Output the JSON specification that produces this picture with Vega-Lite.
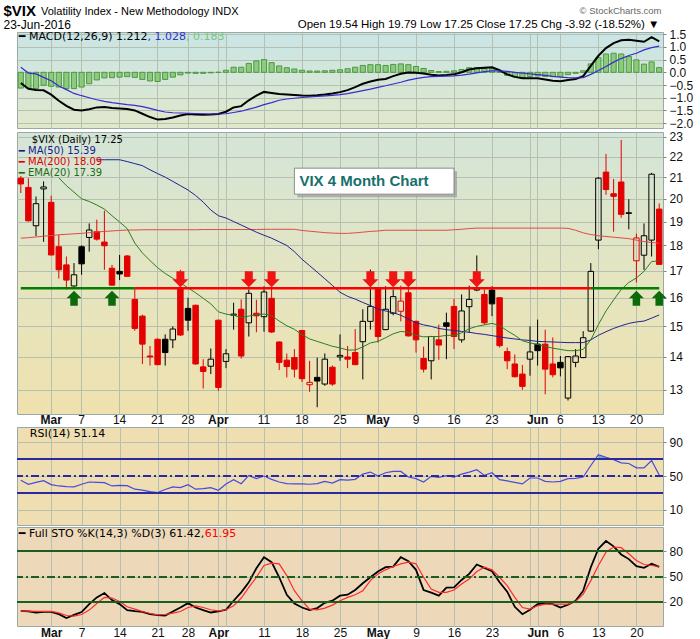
{
"$schema": "https://vega.github.io/schema/vega-lite/v6.json",
"background": "white",
"padding": {"left": 2, "top": 2, "right": 2, "bottom": 0},
"config": {
  "view": {"stroke": "#9ca8a4", "strokeWidth": 1},
  "axis": {"gridColor": "#b6c0b0", "gridWidth": 1, "labelFont": "Liberation Sans", "labelFontSize": 12, "labelColor": "#111111", "tickColor": "#7a8a8a", "domain": false, "titleFont": "Liberation Sans", "titleColor": "#000000"}
},
"datasets": {
"px": [
{"d":"2016-02-24","o":20.95,"h":21.05,"l":20.26,"c":20.68,"m200":18.3,"macd":-0.42,"sig":0.2,"hist":-0.62,"rsi":45,"k":9.5,"dd":9.5},
{"d":"2016-02-25","o":20.52,"h":20.95,"l":19.0,"c":19.03,"m200":18.32,"macd":-0.65,"sig":-0.03,"hist":-0.62,"rsi":40.3,"k":8.7,"dd":9.1},
{"d":"2016-02-26","o":18.82,"h":20.1,"l":18.39,"c":19.78,"m200":18.35,"macd":-0.7,"sig":-0.06,"hist":-0.64,"rsi":42.6,"k":7.5,"dd":8.7},
{"d":"2016-02-29","o":20.45,"h":20.8,"l":18.15,"c":20.54,"m200":18.38,"macd":-0.71,"sig":-0.2,"hist":-0.51,"rsi":44.6,"k":8.3,"dd":8.7},
{"d":"2016-03-01","o":19.84,"h":20.14,"l":17.6,"c":17.62,"m200":18.41,"macd":-0.88,"sig":-0.33,"hist":-0.55,"rsi":39.9,"k":8.3,"dd":8.7},
{"d":"2016-03-02","o":17.95,"h":18.43,"l":16.71,"c":17.04,"m200":18.44,"e20":20.97,"macd":-1.12,"sig":-0.54,"hist":-0.58,"rsi":38.3,"k":5.5,"dd":7.1},
{"d":"2016-03-03","o":17.23,"h":17.56,"l":16.3,"c":16.65,"m200":18.46,"e20":20.6,"macd":-1.32,"sig":-0.68,"hist":-0.64,"rsi":37.6,"k":1.0,"dd":3.9},
{"d":"2016-03-04","o":16.43,"h":17.3,"l":16.4,"c":16.85,"m200":18.48,"e20":20.3,"macd":-1.47,"sig":-0.83,"hist":-0.64,"rsi":37.2,"k":4.7,"dd":3.1},
{"d":"2016-03-07","o":17.95,"h":18.01,"l":16.85,"c":17.27,"m200":18.5,"e20":20.0,"macd":-1.5,"sig":-0.92,"hist":-0.58,"rsi":40.3,"k":8.0,"dd":5.1},
{"d":"2016-03-08","o":18.33,"h":18.92,"l":17.75,"c":18.64,"m200":18.53,"e20":19.88,"macd":-1.45,"sig":-1.0,"hist":-0.45,"rsi":43,"k":17.4,"dd":10.3},
{"d":"2016-03-09","o":18.57,"h":19.08,"l":18.2,"c":18.26,"m50":21.84,"m200":18.56,"e20":19.72,"macd":-1.38,"sig":-1.08,"hist":-0.3,"rsi":42.6,"k":25.4,"dd":18.2},
{"d":"2016-03-10","o":18.14,"h":19.47,"l":17.04,"c":17.99,"m50":21.84,"m200":18.58,"e20":19.54,"macd":-1.36,"sig":-1.14,"hist":-0.22,"rsi":42.2,"k":30.5,"dd":25.4},
{"d":"2016-03-11","o":17.1,"h":17.23,"l":16.43,"c":16.46,"m50":21.84,"m200":18.6,"e20":19.25,"macd":-1.4,"sig":-1.19,"hist":-0.21,"rsi":38.3,"k":22.2,"dd":24.6},
{"d":"2016-03-14","o":16.98,"h":17.62,"l":16.65,"c":16.88,"m50":21.84,"m200":18.62,"e20":18.98,"macd":-1.42,"sig":-1.23,"hist":-0.19,"rsi":39.1,"k":17.4,"dd":20.6},
{"d":"2016-03-15","o":17.58,"h":17.62,"l":16.77,"c":16.79,"m50":21.75,"m200":18.64,"e20":18.7,"macd":-1.44,"sig":-1.27,"hist":-0.17,"rsi":38.7,"k":10.3,"dd":14.2},
{"d":"2016-03-16","o":15.94,"h":16.33,"l":14.85,"c":14.93,"m50":21.65,"m200":18.64,"e20":18.1,"macd":-1.5,"sig":-1.3,"hist":-0.2,"rsi":34.5,"k":9.1,"dd":11.5},
{"d":"2016-03-17","o":15.35,"h":15.4,"l":13.78,"c":14.41,"m50":21.55,"m200":18.65,"e20":17.7,"macd":-1.63,"sig":-1.35,"hist":-0.28,"rsi":33.3,"k":8.3,"dd":8.7},
{"d":"2016-03-18","o":14.03,"h":14.35,"l":13.73,"c":14.0,"m50":21.35,"m200":18.65,"e20":17.4,"macd":-1.76,"sig":-1.42,"hist":-0.34,"rsi":31.7,"k":5.5,"dd":6.3},
{"d":"2016-03-21","o":14.57,"h":14.6,"l":13.74,"c":13.76,"m50":21.17,"m200":18.65,"e20":17.12,"macd":-1.86,"sig":-1.5,"hist":-0.36,"rsi":30.6,"k":4.3,"dd":4.7},
{"d":"2016-03-22","o":14.57,"h":14.73,"l":13.73,"c":14.14,"m50":21.0,"m200":18.65,"e20":16.9,"macd":-1.84,"sig":-1.56,"hist":-0.28,"rsi":34.1,"k":3.9,"dd":5.1},
{"d":"2016-03-23","o":14.55,"h":15.0,"l":14.28,"c":14.91,"m50":20.8,"m200":18.65,"e20":16.72,"macd":-1.78,"sig":-1.59,"hist":-0.19,"rsi":37.2,"k":8.7,"dd":6.7},
{"d":"2016-03-24","o":16.36,"h":17.04,"l":14.68,"c":14.71,"m50":20.6,"m200":18.65,"e20":16.54,"macd":-1.7,"sig":-1.6,"hist":-0.1,"rsi":36.4,"k":13.4,"dd":8.7},
{"d":"2016-03-28","o":15.62,"h":16.0,"l":14.85,"c":15.21,"m50":20.4,"m200":18.65,"e20":16.36,"macd":-1.64,"sig":-1.61,"hist":-0.03,"rsi":39.9,"k":18.6,"dd":13.4},
{"d":"2016-03-29","o":15.73,"h":15.75,"l":13.76,"c":13.78,"m50":20.15,"m200":18.65,"e20":16.18,"macd":-1.66,"sig":-1.62,"hist":-0.04,"rsi":34.5,"k":13.4,"dd":15.4},
{"d":"2016-03-30","o":13.69,"h":13.93,"l":13.04,"c":13.55,"m50":19.85,"m200":18.66,"e20":15.98,"macd":-1.67,"sig":-1.63,"hist":-0.04,"rsi":35.2,"k":10.3,"dd":13.4},
{"d":"2016-03-31","o":13.71,"h":14.27,"l":13.47,"c":13.93,"m50":19.5,"m200":18.66,"e20":15.78,"macd":-1.66,"sig":-1.64,"hist":-0.02,"rsi":36.4,"k":7.5,"dd":10.7},
{"d":"2016-04-01","o":15.21,"h":15.23,"l":12.97,"c":13.07,"m50":19.25,"m200":18.66,"e20":15.5,"macd":-1.64,"sig":-1.64,"hist":0,"rsi":33.3,"k":8.7,"dd":9.5},
{"d":"2016-04-04","o":13.86,"h":14.25,"l":13.65,"c":14.1,"m50":19.15,"m200":18.66,"e20":15.42,"macd":-1.55,"sig":-1.63,"hist":0.08,"rsi":40.7,"k":10.7,"dd":10.7},
{"d":"2016-04-05","o":15.38,"h":15.82,"l":14.89,"c":15.42,"m50":19.0,"m200":18.66,"e20":15.38,"macd":-1.38,"sig":-1.58,"hist":0.2,"rsi":45.7,"k":21.4,"dd":15.4},
{"d":"2016-04-06","o":15.59,"h":15.94,"l":13.95,"c":14.03,"m50":18.85,"m200":18.66,"e20":15.3,"macd":-1.33,"sig":-1.53,"hist":0.2,"rsi":41,"k":31.3,"dd":24.6},
{"d":"2016-04-07","o":15.12,"h":16.3,"l":14.66,"c":16.16,"m50":18.7,"m200":18.66,"e20":15.35,"macd":-1.1,"sig":-1.45,"hist":0.35,"rsi":50.8,"k":43.2,"dd":37.3},
{"d":"2016-04-08","o":15.45,"h":15.93,"l":14.8,"c":15.36,"m50":18.55,"m200":18.66,"e20":15.4,"macd":-0.92,"sig":-1.37,"hist":0.45,"rsi":46.9,"k":59.9,"dd":49.2},
{"d":"2016-04-11","o":15.33,"h":16.42,"l":14.82,"c":16.21,"m50":18.42,"m200":18.67,"e20":15.42,"macd":-0.77,"sig":-1.27,"hist":0.5,"rsi":50,"k":73,"dd":63.1},
{"d":"2016-04-12","o":15.98,"h":16.36,"l":14.78,"c":14.81,"m50":18.3,"m200":18.67,"e20":15.37,"macd":-0.81,"sig":-1.19,"hist":0.38,"rsi":46.1,"k":67.1,"dd":65.9},
{"d":"2016-04-13","o":14.48,"h":14.5,"l":13.59,"c":13.83,"m50":18.15,"m200":18.67,"e20":15.18,"macd":-0.85,"sig":-1.1,"hist":0.25,"rsi":43,"k":49.2,"dd":65.1},
{"d":"2016-04-14","o":13.9,"h":14.11,"l":13.37,"c":13.7,"m50":18.0,"m200":18.67,"e20":15.02,"macd":-0.87,"sig":-1.05,"hist":0.18,"rsi":41,"k":28.5,"dd":51.2},
{"d":"2016-04-15","o":13.98,"h":14.25,"l":13.37,"c":13.62,"m50":17.75,"m200":18.67,"e20":14.9,"macd":-0.89,"sig":-1.02,"hist":0.13,"rsi":40.7,"k":18.2,"dd":33.3},
{"d":"2016-04-18","o":14.86,"h":14.88,"l":13.23,"c":13.33,"m50":17.45,"m200":18.62,"e20":14.72,"macd":-0.91,"sig":-0.99,"hist":0.08,"rsi":40.7,"k":13.4,"dd":21.4},
{"d":"2016-04-19","o":13.15,"h":13.88,"l":12.94,"c":13.22,"m50":17.2,"m200":18.59,"e20":14.58,"macd":-0.92,"sig":-0.97,"hist":0.05,"rsi":40.3,"k":10.3,"dd":11.5},
{"d":"2016-04-20","o":13.37,"h":13.98,"l":12.5,"c":13.26,"m50":16.95,"m200":18.56,"e20":14.5,"macd":-0.9,"sig":-0.95,"hist":0.05,"rsi":41,"k":12.7,"dd":10.7},
{"d":"2016-04-21","o":13.17,"h":14.11,"l":13.12,"c":13.93,"m50":16.7,"m200":18.53,"e20":14.42,"macd":-0.87,"sig":-0.93,"hist":0.06,"rsi":43.8,"k":19,"dd":12.7},
{"d":"2016-04-22","o":13.68,"h":13.73,"l":13.12,"c":13.17,"m50":16.45,"m200":18.51,"e20":14.34,"macd":-0.83,"sig":-0.91,"hist":0.08,"rsi":41.8,"k":21.4,"dd":16.2},
{"d":"2016-04-25","o":14.0,"h":14.73,"l":13.88,"c":14.05,"m50":16.2,"m200":18.5,"e20":14.29,"macd":-0.78,"sig":-0.88,"hist":0.1,"rsi":45.7,"k":27.4,"dd":21.4},
{"d":"2016-04-26","o":14.0,"h":14.35,"l":13.65,"c":13.93,"m50":16.05,"m200":18.5,"e20":14.22,"macd":-0.7,"sig":-0.84,"hist":0.14,"rsi":45.3,"k":28.5,"dd":25.4},
{"d":"2016-04-27","o":14.14,"h":14.91,"l":13.74,"c":13.76,"m50":15.95,"m200":18.52,"e20":14.22,"macd":-0.58,"sig":-0.78,"hist":0.2,"rsi":46.1,"k":34.1,"dd":28.5},
{"d":"2016-04-28","o":14.49,"h":15.59,"l":13.31,"c":15.17,"m50":15.83,"m200":18.55,"e20":14.32,"macd":-0.45,"sig":-0.72,"hist":0.27,"rsi":52.3,"k":42.1,"dd":33.3},
{"d":"2016-04-29","o":15.17,"h":17.05,"l":14.89,"c":15.69,"m50":15.72,"m200":18.58,"e20":14.45,"macd":-0.36,"sig":-0.66,"hist":0.3,"rsi":54.7,"k":49.2,"dd":45.2},
{"d":"2016-05-02","o":16.32,"h":16.35,"l":14.46,"c":14.66,"m50":15.6,"m200":18.6,"e20":14.5,"macd":-0.29,"sig":-0.59,"hist":0.3,"rsi":50,"k":56,"dd":53.2},
{"d":"2016-05-03","o":14.89,"h":16.42,"l":14.87,"c":15.59,"m50":15.53,"m200":18.63,"e20":14.62,"macd":-0.26,"sig":-0.53,"hist":0.27,"rsi":53.9,"k":61.1,"dd":58},
{"d":"2016-05-04","o":15.45,"h":16.3,"l":15.38,"c":16.04,"m50":15.47,"m200":18.63,"e20":14.75,"macd":-0.15,"sig":-0.46,"hist":0.31,"rsi":55.4,"k":61.9,"dd":61.9},
{"d":"2016-05-05","o":15.52,"h":16.44,"l":15.17,"c":15.88,"m50":15.38,"m200":18.63,"e20":14.83,"macd":-0.06,"sig":-0.39,"hist":0.33,"rsi":55.4,"k":73,"dd":65.1},
{"d":"2016-05-06","o":16.18,"h":16.44,"l":14.66,"c":14.68,"m50":15.25,"m200":18.63,"e20":14.8,"macd":-0.01,"sig":-0.31,"hist":0.3,"rsi":48.8,"k":68.3,"dd":67.1},
{"d":"2016-05-09","o":15.17,"h":15.2,"l":14.14,"c":14.55,"m50":15.12,"m200":18.63,"e20":14.7,"macd":-0.02,"sig":-0.25,"hist":0.23,"rsi":46.9,"k":58,"dd":65.1},
{"d":"2016-05-10","o":13.95,"h":14.33,"l":13.52,"c":13.62,"m50":15.05,"m200":18.63,"e20":14.65,"macd":-0.05,"sig":-0.2,"hist":0.15,"rsi":43,"k":34.1,"dd":49.2},
{"d":"2016-05-11","o":13.88,"h":14.68,"l":13.31,"c":14.66,"m50":15.0,"m200":18.63,"e20":14.66,"macd":-0.1,"sig":-0.17,"hist":0.07,"rsi":49.6,"k":30.9,"dd":35.3},
{"d":"2016-05-12","o":14.55,"h":15.06,"l":13.91,"c":14.38,"m50":14.93,"m200":18.63,"e20":14.66,"macd":-0.13,"sig":-0.16,"hist":0.03,"rsi":48.4,"k":27.4,"dd":31.3},
{"d":"2016-05-13","o":15.12,"h":15.47,"l":13.93,"c":15.0,"m50":14.89,"m200":18.63,"e20":14.7,"macd":-0.11,"sig":-0.15,"hist":0.04,"rsi":50.4,"k":36.9,"dd":31.3},
{"d":"2016-05-16","o":15.69,"h":15.96,"l":14.25,"c":14.66,"m50":14.86,"m200":18.65,"e20":14.7,"macd":-0.08,"sig":-0.14,"hist":0.06,"rsi":48.8,"k":37.3,"dd":34.1},
{"d":"2016-05-17","o":14.55,"h":16.12,"l":14.46,"c":15.53,"m50":14.83,"m200":18.67,"e20":14.78,"macd":0,"sig":-0.11,"hist":0.11,"rsi":52.3,"k":46,"dd":41.3},
{"d":"2016-05-18","o":15.68,"h":16.44,"l":14.78,"c":15.94,"m50":14.8,"m200":18.7,"e20":14.92,"macd":0.11,"sig":-0.07,"hist":0.18,"rsi":54.7,"k":53.2,"dd":47.2},
{"d":"2016-05-19","o":16.28,"h":17.6,"l":16.24,"c":16.33,"m50":14.76,"m200":18.72,"e20":15.0,"macd":0.16,"sig":-0.02,"hist":0.18,"rsi":57.4,"k":64.3,"dd":56},
{"d":"2016-05-20","o":16.12,"h":16.3,"l":15.06,"c":15.12,"m50":14.73,"m200":18.72,"e20":15.05,"macd":0.18,"sig":0.03,"hist":0.15,"rsi":50.8,"k":60.3,"dd":61.1},
{"d":"2016-05-23","o":16.28,"h":16.42,"l":15.35,"c":15.78,"m50":14.69,"m200":18.72,"e20":15.1,"macd":0.2,"sig":0.06,"hist":0.14,"rsi":53.9,"k":56.4,"dd":58},
{"d":"2016-05-24","o":16.0,"h":16.02,"l":14.3,"c":14.36,"m50":14.65,"m200":18.72,"e20":15.03,"macd":0.08,"sig":0.06,"hist":0.02,"rsi":45.7,"k":43.2,"dd":49.2},
{"d":"2016-05-25","o":14.17,"h":14.3,"l":13.62,"c":13.88,"m50":14.61,"m200":18.72,"e20":14.85,"macd":-0.08,"sig":0.04,"hist":-0.12,"rsi":44.2,"k":32.1,"dd":39.3},
{"d":"2016-05-26","o":13.78,"h":14.08,"l":13.37,"c":13.39,"m50":14.58,"m200":18.72,"e20":14.7,"macd":-0.18,"sig":0,"hist":-0.18,"rsi":42.6,"k":14.2,"dd":25.4},
{"d":"2016-05-27","o":13.47,"h":13.75,"l":13.0,"c":13.1,"m50":14.55,"m200":18.72,"e20":14.52,"macd":-0.23,"sig":-0.03,"hist":-0.2,"rsi":40.7,"k":5.5,"dd":13.4},
{"d":"2016-05-31","o":13.93,"h":15.0,"l":13.42,"c":14.16,"m50":14.53,"m200":18.72,"e20":14.45,"macd":-0.23,"sig":-0.06,"hist":-0.17,"rsi":47.7,"k":10.7,"dd":11.5},
{"d":"2016-06-01","o":14.41,"h":15.23,"l":13.73,"c":14.2,"m50":14.5,"m200":18.72,"e20":14.4,"macd":-0.23,"sig":-0.09,"hist":-0.14,"rsi":47.7,"k":17.4,"dd":15.4},
{"d":"2016-06-02","o":14.41,"h":14.89,"l":12.87,"c":13.62,"m50":14.49,"m200":18.72,"e20":14.34,"macd":-0.28,"sig":-0.12,"hist":-0.16,"rsi":43.8,"k":18.6,"dd":17.4},
{"d":"2016-06-03","o":13.78,"h":14.63,"l":13.37,"c":13.45,"m50":14.48,"m200":18.72,"e20":14.28,"macd":-0.33,"sig":-0.16,"hist":-0.17,"rsi":43,"k":17.4,"dd":17.4},
{"d":"2016-06-06","o":13.83,"h":14.03,"l":13.4,"c":13.66,"m50":14.47,"m200":18.72,"e20":14.24,"macd":-0.35,"sig":-0.19,"hist":-0.16,"rsi":43.8,"k":13.4,"dd":17.4},
{"d":"2016-06-07","o":12.76,"h":14.03,"l":12.69,"c":14.01,"m50":14.46,"m200":18.71,"e20":14.2,"macd":-0.3,"sig":-0.21,"hist":-0.09,"rsi":46.9,"k":16.6,"dd":17.4},
{"d":"2016-06-08","o":13.83,"h":14.25,"l":13.68,"c":14.03,"m50":14.46,"m200":18.63,"e20":14.2,"macd":-0.26,"sig":-0.22,"hist":-0.04,"rsi":47.3,"k":21.4,"dd":20.6},
{"d":"2016-06-09","o":13.98,"h":14.84,"l":13.96,"c":14.62,"m50":14.46,"m200":18.52,"e20":14.24,"macd":-0.15,"sig":-0.21,"hist":0.06,"rsi":48.8,"k":33.3,"dd":29.3},
{"d":"2016-06-10","o":14.84,"h":17.3,"l":14.81,"c":16.98,"m50":14.55,"m200":18.45,"e20":14.55,"macd":0.25,"sig":-0.08,"hist":0.33,"rsi":62.4,"k":61.1,"dd":45.2},
{"d":"2016-06-13","o":18.22,"h":21.0,"l":17.85,"c":20.95,"m50":14.7,"m200":18.4,"e20":15.06,"macd":0.65,"sig":0.07,"hist":0.58,"rsi":75.2,"k":83,"dd":63.1},
{"d":"2016-06-14","o":21.24,"h":22.13,"l":20.18,"c":20.42,"m50":14.82,"m200":18.37,"e20":15.53,"macd":0.95,"sig":0.23,"hist":0.72,"rsi":72.1,"k":92.1,"dd":79},
{"d":"2016-06-15","o":20.23,"h":20.91,"l":18.57,"c":20.11,"m50":14.93,"m200":18.34,"e20":15.92,"macd":1.15,"sig":0.4,"hist":0.75,"rsi":69.4,"k":85.8,"dd":85},
{"d":"2016-06-16","o":20.77,"h":22.84,"l":19.16,"c":19.31,"m50":15.02,"m200":18.31,"e20":16.3,"macd":1.26,"sig":0.54,"hist":0.72,"rsi":65.5,"k":76.2,"dd":84.2},
{"d":"2016-06-17","o":19.35,"h":19.98,"l":18.67,"c":19.38,"m50":15.1,"m200":18.28,"e20":16.56,"macd":1.28,"sig":0.66,"hist":0.62,"rsi":64.8,"k":70.7,"dd":77},
{"d":"2016-06-20","o":17.39,"h":18.49,"l":16.56,"c":18.31,"m50":15.15,"m200":18.22,"e20":16.73,"macd":1.24,"sig":0.75,"hist":0.49,"rsi":59.7,"k":62.3,"dd":69.1},
{"d":"2016-06-21","o":17.61,"h":18.92,"l":17.04,"c":18.4,"m50":15.18,"m200":18.16,"e20":16.98,"macd":1.2,"sig":0.88,"hist":0.32,"rsi":59.7,"k":60.3,"dd":64.3},
{"d":"2016-06-22","o":18.22,"h":21.2,"l":17.56,"c":21.14,"m50":15.28,"m200":18.12,"e20":17.36,"macd":1.38,"sig":0.97,"hist":0.41,"rsi":68.3,"k":65.1,"dd":63.1},
{"d":"2016-06-23","o":19.54,"h":19.79,"l":17.25,"c":17.25,"m50":15.39,"m200":18.09,"e20":17.39,"macd":1.212,"sig":1.028,"hist":0.183,"rsi":51.14,"k":61.42,"dd":61.95}
],
"arrows": [
{"d":"2016-03-04","kind":"buy"},
{"d":"2016-03-11","kind":"buy"},
{"d":"2016-03-24","kind":"sell"},
{"d":"2016-04-07","kind":"sell"},
{"d":"2016-04-12","kind":"sell"},
{"d":"2016-04-29","kind":"sell"},
{"d":"2016-05-04","kind":"sell"},
{"d":"2016-05-06","kind":"sell"},
{"d":"2016-05-19","kind":"sell"},
{"d":"2016-06-20","kind":"buy"},
{"d":"2016-06-23","kind":"buy"}
],
"seg": [
{"start":"2016-02-24","end":"2016-03-16","kind":"support","level":16.35},
{"start":"2016-03-16","end":"2016-06-10","kind":"resistance","level":16.35},
{"start":"2016-06-10","end":"2016-06-23","kind":"support","level":16.35}
]
},
"data": {"name": "px"},
"spacing": 0,
"vconcat": [
{
"width": 646,
"height": 96,
"view": {"fill": {"gradient": "linear", "x1": 0, "y1": 0, "x2": 0, "y2": 1, "stops": [{"offset": 0, "color": "#c9e5e6"}, {"offset": 1, "color": "#e1e8cb"}]}, "stroke": "#9ca8a4"},
"title": {"text": "Volatility Index - New Methodology INDX", "anchor": "start", "dx": 38, "offset": -14, "font": "Liberation Sans", "fontSize": 11, "fontWeight": "normal", "color": "#000000"},
"resolve": {"axis": {"x": "independent", "y": "independent"}},
"layer": [
{"mark": {"type": "bar", "fill": "#8dcb7c", "stroke": "#4b9742", "strokeWidth": 1, "width": {"band": 0.68}},
 "encoding": {
  "x": {"field": "d", "type": "ordinal", "title": "Open 19.54 High 19.79 Low 17.25 Close 17.25 Chg -3.92 (-18.52%) ▼", "scale": {"paddingInner": 0, "paddingOuter": 0},
        "axis": {"orient": "top", "values": ["2016-03-01","2016-03-07","2016-03-14","2016-03-21","2016-03-28","2016-04-01","2016-04-04","2016-04-11","2016-04-18","2016-04-25","2016-05-02","2016-05-09","2016-05-16","2016-05-23","2016-05-31","2016-06-01","2016-06-06","2016-06-13","2016-06-20"], "labels": false, "ticks": false, "domain": false, "grid": true,
                 "titleFont": "Liberation Sans", "titleFontSize": 11.5, "titleFontWeight": "normal", "titleAnchor": "end", "titleAlign": "right", "titleBaseline": "alphabetic", "titleAngle": 0, "titleX": 642, "titleY": -5}},
  "y": {"field": "hist", "type": "quantitative", "title": "© StockCharts.com", "scale": {"domain": [-2.19, 1.585], "nice": false, "zero": false},
        "axis": {"orient": "right", "values": [-2, -1.5, -1, -0.5, 0, 0.5, 1, 1.5], "format": ".1f", "grid": true, "tickSize": 3, "labelPadding": 3,
                 "titleFont": "Liberation Sans", "titleFontSize": 9.5, "titleFontWeight": "normal", "titleColor": "#666666", "titleAngle": 0, "titleAlign": "right", "titleBaseline": "alphabetic", "titleX": -2, "titleY": -19}},
  "y2": {"datum": 0}
 }},
{"mark": {"type": "line", "stroke": "#000000", "strokeWidth": 2},
 "encoding": {
  "x": {"field": "d", "type": "ordinal", "title": "23-Jun-2016",
        "axis": {"orient": "bottom", "labels": false, "ticks": false, "domain": false, "grid": false, "titleFont": "Liberation Sans", "titleFontSize": 12, "titleFontWeight": "normal", "titleAngle": 0, "titleAlign": "left", "titleBaseline": "alphabetic", "titleX": -14, "titleY": -100}},
  "y": {"field": "macd", "type": "quantitative", "title": "$VIX",
        "axis": {"orient": "left", "labels": false, "ticks": false, "domain": false, "grid": false, "titleFont": "Liberation Sans", "titleFontSize": 15, "titleFontWeight": "bold", "titleAngle": 0, "titleAlign": "left", "titleBaseline": "alphabetic", "titleX": -14, "titleY": -17}}
 }},
{"mark": {"type": "line", "stroke": "#3a2bd0", "strokeWidth": 1.2},
 "encoding": {"x": {"field": "d", "type": "ordinal", "axis": null}, "y": {"field": "sig", "type": "quantitative", "axis": null}}},
{"data": {"values": [{}]}, "mark": {"type": "text", "text": "━ MACD(12,26,9) 1.212", "align": "left", "baseline": "middle", "font": "DejaVu Sans", "fontSize": 11, "color": "#000000", "dx": -2},
 "encoding": {"x": {"datum": "2016-02-24", "type": "ordinal", "axis": null}, "y": {"datum": 1.4, "type": "quantitative", "axis": null}}},
{"data": {"values": [{}]}, "mark": {"type": "text", "text": ", 1.028", "align": "left", "baseline": "middle", "font": "DejaVu Sans", "fontSize": 11, "color": "#3333cc", "dx": 126.8},
 "encoding": {"x": {"datum": "2016-02-24", "type": "ordinal", "axis": null}, "y": {"datum": 1.4, "type": "quantitative", "axis": null}}},
{"data": {"values": [{}]}, "mark": {"type": "text", "text": ", 0.183", "align": "left", "baseline": "middle", "font": "DejaVu Sans", "fontSize": 11, "color": "#7cc47c", "dx": 165.3},
 "encoding": {"x": {"datum": "2016-02-24", "type": "ordinal", "axis": null}, "y": {"datum": 1.4, "type": "quantitative", "axis": null}}}
]
},
{
"width": 646,
"height": 282,
"view": {"fill": {"gradient": "linear", "x1": 0, "y1": 0, "x2": 0, "y2": 1, "stops": [{"offset": 0, "color": "#d3e5d8"}, {"offset": 0.5, "color": "#e4e5c1"}, {"offset": 1, "color": "#efe1ae"}]}, "stroke": "#9ca8a4"},
"layer": [
{"transform": [{"window": [{"op": "lag", "field": "c", "as": "pc"}], "sort": [{"field": "d", "order": "ascending"}]}],
 "layer": [
  {"transform": [{"filter": "datum.c < datum.o"}],
   "mark": {"type": "rule", "strokeWidth": 1},
   "encoding": {
    "x": {"field": "d", "type": "ordinal", "title": null, "scale": {"paddingInner": 0, "paddingOuter": 0},
          "axis": {"orient": "bottom", "values": ["2016-03-01","2016-03-07","2016-03-14","2016-03-21","2016-03-28","2016-04-01","2016-04-04","2016-04-11","2016-04-18","2016-04-25","2016-05-02","2016-05-09","2016-05-16","2016-05-23","2016-05-31","2016-06-01","2016-06-06","2016-06-13","2016-06-20"],
                   "labelExpr": "datum.value == '2016-03-01' ? 'Mar' : datum.value == '2016-04-01' ? 'Apr' : datum.value == '2016-05-02' ? 'May' : datum.value == '2016-06-01' ? 'Jun' : (datum.value == '2016-04-04' || datum.value == '2016-05-31') ? '' : '' + toNumber(substring(datum.value, 8, 10))",
                   "labelFontWeight": {"condition": {"test": "datum.value == '2016-03-01' || datum.value == '2016-04-01' || datum.value == '2016-05-02' || datum.value == '2016-06-01'", "value": "bold"}, "value": "normal"},
                   "labelAngle": 0, "labelFontSize": 12, "labelPadding": 0, "labelOverlap": false, "labelBound": false, "ticks": false, "domain": false, "grid": true}},
    "y": {"field": "h", "type": "quantitative", "title": null, "scale": {"type": "log", "domain": [12.31, 23.25], "nice": false},
          "axis": {"orient": "right", "values": [13, 14, 15, 16, 17, 18, 19, 20, 21, 22, 23], "format": "d", "grid": true, "tickSize": 3, "labelPadding": 3}},
    "y2": {"field": "o"},
    "color": {"condition": {"test": "datum.pc == null || datum.c < datum.pc", "value": "#e30000"}, "value": "#000000"}
   }},
  {"transform": [{"filter": "datum.c < datum.o"}],
   "mark": {"type": "rule", "strokeWidth": 1},
   "encoding": {"x": {"field": "d", "type": "ordinal", "title": null}, "y": {"field": "c", "type": "quantitative", "title": null}, "y2": {"field": "l"},
    "color": {"condition": {"test": "datum.pc == null || datum.c < datum.pc", "value": "#e30000"}, "value": "#000000"}}},
  {"transform": [{"filter": "datum.c >= datum.o"}],
   "mark": {"type": "rule", "strokeWidth": 1},
   "encoding": {"x": {"field": "d", "type": "ordinal", "title": null}, "y": {"field": "h", "type": "quantitative", "title": null}, "y2": {"field": "c"},
    "color": {"condition": {"test": "datum.pc == null || datum.c < datum.pc", "value": "#e30000"}, "value": "#000000"}}},
  {"transform": [{"filter": "datum.c >= datum.o"}],
   "mark": {"type": "rule", "strokeWidth": 1},
   "encoding": {"x": {"field": "d", "type": "ordinal", "title": null}, "y": {"field": "o", "type": "quantitative", "title": null}, "y2": {"field": "l"},
    "color": {"condition": {"test": "datum.pc == null || datum.c < datum.pc", "value": "#e30000"}, "value": "#000000"}}},
  {"mark": {"type": "bar", "width": {"band": 0.72}, "strokeWidth": 1},
   "encoding": {"x": {"field": "d", "type": "ordinal", "title": null}, "y": {"field": "o", "type": "quantitative", "title": null}, "y2": {"field": "c"},
    "stroke": {"condition": {"test": "datum.pc == null || datum.c < datum.pc", "value": "#e30000"}, "value": "#000000"},
    "fill": {"condition": [{"test": "datum.c >= datum.o", "value": "transparent"}, {"test": "datum.pc == null || datum.c < datum.pc", "value": "#e30000"}], "value": "#000000"}}}
 ]},
{"mark": {"type": "line", "stroke": "#e34848", "strokeWidth": 1},
 "encoding": {"x": {"field": "d", "type": "ordinal", "title": null}, "y": {"field": "m200", "type": "quantitative", "title": null}}},
{"mark": {"type": "line", "stroke": "#22228f", "strokeWidth": 1},
 "encoding": {"x": {"field": "d", "type": "ordinal", "title": null}, "y": {"field": "m50", "type": "quantitative", "title": null}}},
{"mark": {"type": "line", "stroke": "#2e7d22", "strokeWidth": 1},
 "encoding": {"x": {"field": "d", "type": "ordinal", "title": null}, "y": {"field": "e20", "type": "quantitative", "title": null}}},
{"data": {"name": "seg"},
 "mark": {"type": "rule", "strokeWidth": 2.5},
 "encoding": {"x": {"field": "start", "type": "ordinal", "title": null}, "x2": {"field": "end"}, "y": {"field": "level", "type": "quantitative", "title": null},
  "color": {"condition": {"test": "datum.kind == 'resistance'", "value": "#ff0000"}, "value": "#008000"}}},
{"data": {"name": "arrows"}, "transform": [{"filter": "datum.kind == 'sell'"}],
 "mark": {"type": "point", "shape": "M-0.5,-1L0.5,-1L0.5,0L1,0L0,1L-1,0L-0.5,0Z", "size": 256, "filled": true, "color": "#f01414", "opacity": 1, "yOffset": -9},
 "encoding": {"x": {"field": "d", "type": "ordinal", "title": null}, "y": {"datum": 16.35, "type": "quantitative"}}},
{"data": {"name": "arrows"}, "transform": [{"filter": "datum.kind == 'buy'"}],
 "mark": {"type": "point", "shape": "M-0.5,1L0.5,1L0.5,0L1,0L0,-1L-1,0L-0.5,0Z", "size": 225, "filled": true, "color": "#0b6b0b", "opacity": 1, "yOffset": 10},
 "encoding": {"x": {"field": "d", "type": "ordinal", "title": null}, "y": {"datum": 16.35, "type": "quantitative"}}},
{"data": {"values": [{}]},
 "mark": {"type": "rect", "fill": "#9a9a9a", "opacity": 0.7, "xOffset": 3, "x2Offset": 3, "yOffset": 3, "y2Offset": 3},
 "encoding": {"x": {"datum": "2016-04-15", "type": "ordinal"}, "x2": {"datum": "2016-05-16"}, "y": {"datum": 21.43, "type": "quantitative"}, "y2": {"datum": 20.21}}},
{"data": {"values": [{}]},
 "mark": {"type": "rect", "fill": "#ffffff", "stroke": "#8c8c8c", "strokeWidth": 1},
 "encoding": {"x": {"datum": "2016-04-15", "type": "ordinal"}, "x2": {"datum": "2016-05-16"}, "y": {"datum": 21.43, "type": "quantitative"}, "y2": {"datum": 20.21}}},
{"data": {"values": [{}]},
 "mark": {"type": "text", "text": "VIX 4 Month Chart", "align": "left", "baseline": "middle", "font": "Liberation Sans", "fontSize": 15, "fontWeight": "bold", "color": "#18706c", "dx": 5},
 "encoding": {"x": {"datum": "2016-04-15", "type": "ordinal"}, "y": {"datum": 20.81, "type": "quantitative"}}},
{"data": {"values": [{}]},
 "mark": {"type": "text", "text": "$VIX (Daily) 17.25", "align": "left", "baseline": "middle", "font": "DejaVu Sans", "fontSize": 10, "color": "#000000", "dx": 11},
 "encoding": {"x": {"datum": "2016-02-24", "type": "ordinal"}, "y": {"datum": 22.85, "type": "quantitative"}}},
{"data": {"values": [{}]},
 "mark": {"type": "text", "text": "━ MA(50) 15.39", "align": "left", "baseline": "middle", "font": "DejaVu Sans", "fontSize": 10, "color": "#1a1a8a", "dx": -2},
 "encoding": {"x": {"datum": "2016-02-24", "type": "ordinal"}, "y": {"datum": 22.26, "type": "quantitative"}}},
{"data": {"values": [{}]},
 "mark": {"type": "text", "text": "━ MA(200) 18.09", "align": "left", "baseline": "middle", "font": "DejaVu Sans", "fontSize": 10, "color": "#e00000", "dx": -2},
 "encoding": {"x": {"datum": "2016-02-24", "type": "ordinal"}, "y": {"datum": 21.71, "type": "quantitative"}}},
{"data": {"values": [{}]},
 "mark": {"type": "text", "text": "━ EMA(20) 17.39", "align": "left", "baseline": "middle", "font": "DejaVu Sans", "fontSize": 10, "color": "#1e6b14", "dx": -2},
 "encoding": {"x": {"datum": "2016-02-24", "type": "ordinal"}, "y": {"datum": 21.19, "type": "quantitative"}}}
]
},
{
"width": 646,
"height": 98,
"view": {"fill": "#efdeb2", "stroke": "#9ca8a4"},
"layer": [
{"transform": [{"filter": "datum.rsi >= 70"}],
 "mark": {"type": "area", "color": "#5aa89e", "opacity": 0.85},
 "encoding": {
  "x": {"field": "d", "type": "ordinal", "title": null, "scale": {"paddingInner": 0, "paddingOuter": 0},
        "axis": {"orient": "bottom", "values": ["2016-03-01","2016-03-07","2016-03-14","2016-03-21","2016-03-28","2016-04-01","2016-04-04","2016-04-11","2016-04-18","2016-04-25","2016-05-02","2016-05-09","2016-05-16","2016-05-23","2016-05-31","2016-06-01","2016-06-06","2016-06-13","2016-06-20"], "labels": false, "ticks": false, "domain": false, "grid": true}},
  "y": {"field": "rsi", "type": "quantitative", "title": null, "scale": {"domain": [-7.7, 107.8], "nice": false, "zero": false},
        "axis": {"orient": "right", "values": [10, 30, 50, 70, 90], "grid": true, "tickSize": 3, "labelPadding": 3}},
  "y2": {"datum": 70}
 }},
{"mark": {"type": "line", "stroke": "#4848e0", "strokeWidth": 1.2},
 "encoding": {"x": {"field": "d", "type": "ordinal", "title": null}, "y": {"field": "rsi", "type": "quantitative", "title": null}}},
{"mark": {"type": "rule", "stroke": "#2b2b9e", "strokeWidth": 1.3}, "encoding": {"y": {"datum": 70, "type": "quantitative"}}},
{"mark": {"type": "rule", "stroke": "#2b2b9e", "strokeWidth": 1.3}, "encoding": {"y": {"datum": 30, "type": "quantitative"}}},
{"mark": {"type": "rule", "stroke": "#2b2b9e", "strokeWidth": 1.3, "strokeDash": [8, 3, 2, 3]}, "encoding": {"y": {"datum": 50, "type": "quantitative"}}},
{"data": {"values": [{}]},
 "mark": {"type": "text", "text": "RSI(14) 51.14", "align": "left", "baseline": "middle", "font": "DejaVu Sans", "fontSize": 11, "color": "#000000", "dx": 9},
 "encoding": {"x": {"datum": "2016-02-24", "type": "ordinal"}, "y": {"datum": 99.4, "type": "quantitative"}}}
]
},
{
"width": 646,
"height": 99,
"view": {"fill": "#edd9ba", "stroke": "#9ca8a4"},
"layer": [
{"mark": {"type": "line", "stroke": "#000000", "strokeWidth": 1.8},
 "encoding": {
  "x": {"field": "d", "type": "ordinal", "title": null, "scale": {"paddingInner": 0, "paddingOuter": 0},
        "axis": {"orient": "bottom", "values": ["2016-03-01","2016-03-07","2016-03-14","2016-03-21","2016-03-28","2016-04-01","2016-04-04","2016-04-11","2016-04-18","2016-04-25","2016-05-02","2016-05-09","2016-05-16","2016-05-23","2016-05-31","2016-06-01","2016-06-06","2016-06-13","2016-06-20"],
                 "labelExpr": "datum.value == '2016-03-01' ? 'Mar' : datum.value == '2016-04-01' ? 'Apr' : datum.value == '2016-05-02' ? 'May' : datum.value == '2016-06-01' ? 'Jun' : (datum.value == '2016-04-04' || datum.value == '2016-05-31') ? '' : '' + toNumber(substring(datum.value, 8, 10))",
                 "labelFontWeight": {"condition": {"test": "datum.value == '2016-03-01' || datum.value == '2016-04-01' || datum.value == '2016-05-02' || datum.value == '2016-06-01'", "value": "bold"}, "value": "normal"},
                 "labelAngle": 0, "labelFontSize": 12, "labelPadding": 1, "labelOverlap": false, "labelBound": false, "ticks": false, "domain": false, "grid": true}},
  "y": {"field": "k", "type": "quantitative", "title": null, "scale": {"domain": [-8.5, 108.7], "nice": false, "zero": false},
        "axis": {"orient": "right", "values": [20, 50, 80], "grid": true, "tickSize": 3, "labelPadding": 3}}
 }},
{"mark": {"type": "line", "stroke": "#ff2a2a", "strokeWidth": 1.2},
 "encoding": {"x": {"field": "d", "type": "ordinal", "title": null}, "y": {"field": "dd", "type": "quantitative", "title": null}}},
{"mark": {"type": "rule", "stroke": "#1d5e1d", "strokeWidth": 1.3}, "encoding": {"y": {"datum": 80, "type": "quantitative"}}},
{"mark": {"type": "rule", "stroke": "#1d5e1d", "strokeWidth": 1.3}, "encoding": {"y": {"datum": 20, "type": "quantitative"}}},
{"mark": {"type": "rule", "stroke": "#1d5e1d", "strokeWidth": 1.3, "strokeDash": [8, 3, 2, 3]}, "encoding": {"y": {"datum": 50, "type": "quantitative"}}},
{"data": {"values": [{}]},
 "mark": {"type": "text", "text": "━ Full STO %K(14,3) %D(3) 61.42,", "align": "left", "baseline": "middle", "font": "DejaVu Sans", "fontSize": 11, "color": "#000000", "dx": -2},
 "encoding": {"x": {"datum": "2016-02-24", "type": "ordinal"}, "y": {"datum": 99.9, "type": "quantitative"}}},
{"data": {"values": [{}]},
 "mark": {"type": "text", "text": " 61.95", "align": "left", "baseline": "middle", "font": "DejaVu Sans", "fontSize": 11, "color": "#ff0000", "dx": 184},
 "encoding": {"x": {"datum": "2016-02-24", "type": "ordinal"}, "y": {"datum": 99.9, "type": "quantitative"}}}
]
}
]
}
